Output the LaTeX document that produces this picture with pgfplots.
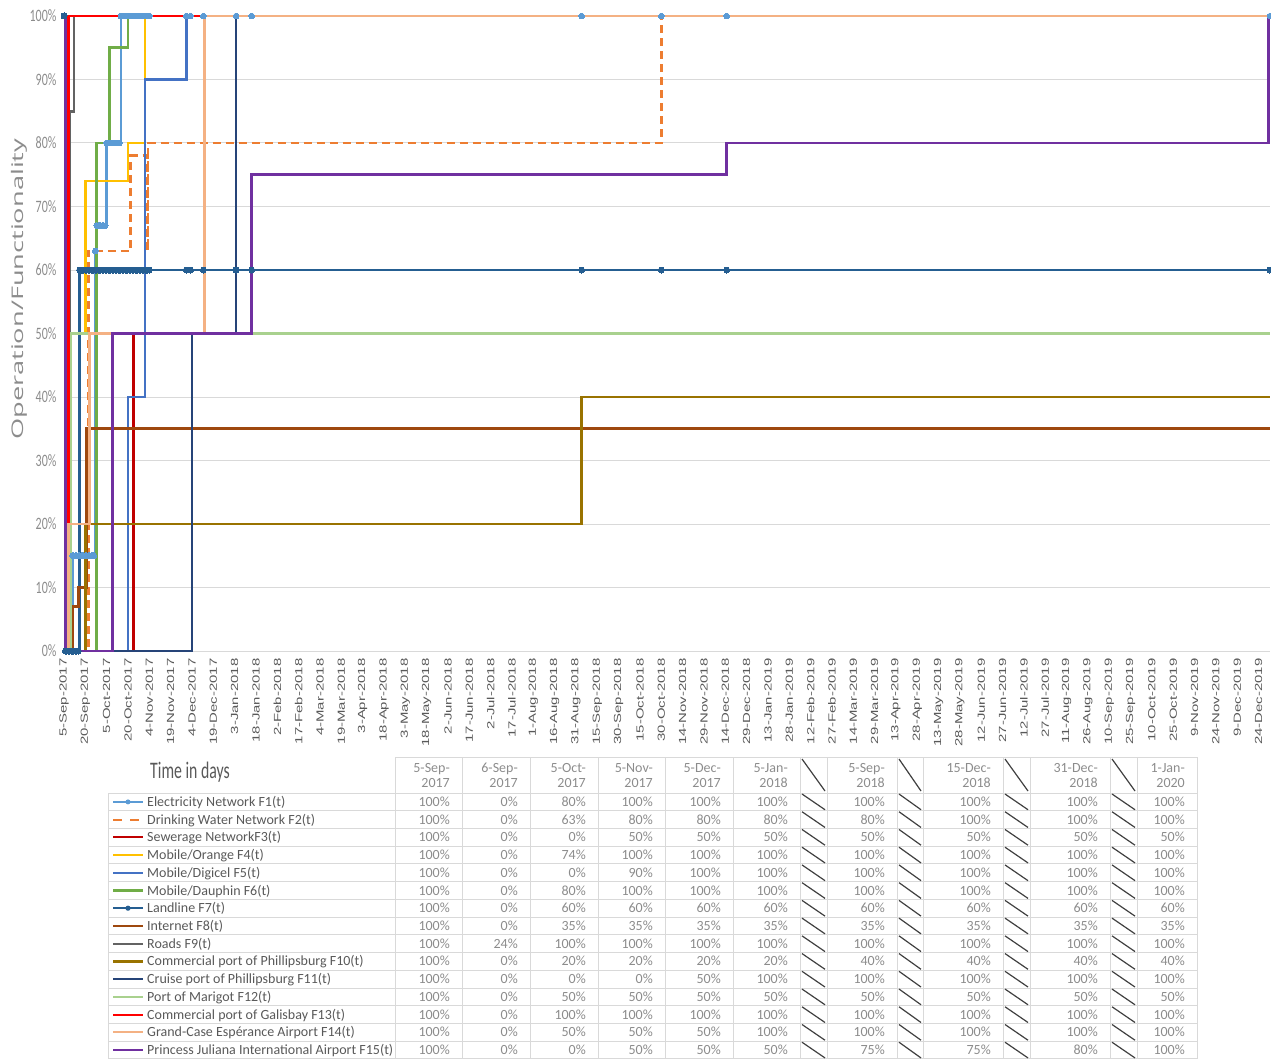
\documentclass[border=0pt]{standalone}
\usepackage{pgfplots}
\pgfplotsset{compat=1.18}
\usepackage{fontspec}
\setmainfont{Carlito}
\newfontfamily\arialf{Liberation Sans}
\newfontfamily\ylabfont{Open Sans}

\definecolor{f1}{HTML}{5B9BD5}
\definecolor{f2}{HTML}{ED7D31}
\definecolor{f3}{HTML}{C00000}
\definecolor{f4}{HTML}{FFC000}
\definecolor{f5}{HTML}{4472C4}
\definecolor{f6}{HTML}{70AD47}
\definecolor{f7}{HTML}{255E91}
\definecolor{f8}{HTML}{9E480E}
\definecolor{f9}{HTML}{636363}
\definecolor{f10}{HTML}{997300}
\definecolor{f11}{HTML}{264478}
\definecolor{f12}{HTML}{A9D18E}
\definecolor{f13}{HTML}{FF0000}
\definecolor{f14}{HTML}{F4B183}
\definecolor{f15}{HTML}{7030A0}
\definecolor{gridc}{HTML}{D9D9D9}
\definecolor{txt}{HTML}{595959}
\definecolor{val}{HTML}{8C8C8C}

% chart text is stretched along its length
\newcommand\xl[1]{\scalebox{1.45}[1]{#1}}

\begin{document}
\begin{tikzpicture}
\useasboundingbox (0,0) rectangle (1271pt,-1059pt);

\begin{axis}[
    at={(64pt,-651pt)}, anchor=south west,
    scale only axis, width=1206pt, height=635pt,
    xmin=0, xmax=848, ymin=0, ymax=100,
    clip=false,
    axis line style={draw=none},
    major tick length=0pt,
    ymajorgrids, grid style={draw=gridc, line width=1pt},
    ytick={0,10,...,100},
    /pgf/number format/assume math mode=true,
    yticklabel={\scalebox{1}[1.45]{\pgfmathprintnumber{\tick}\%}},
    yticklabel style={font=\fontsize{12}{14}\selectfont, text=val, xshift=-4pt},
    xtick={0,15,...,840},
    xticklabels={\xl{5-Sep-2017},\xl{20-Sep-2017},\xl{5-Oct-2017},\xl{20-Oct-2017},
      \xl{4-Nov-2017},\xl{19-Nov-2017},\xl{4-Dec-2017},\xl{19-Dec-2017},
      \xl{3-Jan-2018},\xl{18-Jan-2018},\xl{2-Feb-2018},\xl{17-Feb-2018},
      \xl{4-Mar-2018},\xl{19-Mar-2018},\xl{3-Apr-2018},\xl{18-Apr-2018},
      \xl{3-May-2018},\xl{18-May-2018},\xl{2-Jun-2018},\xl{17-Jun-2018},
      \xl{2-Jul-2018},\xl{17-Jul-2018},\xl{1-Aug-2018},\xl{16-Aug-2018},
      \xl{31-Aug-2018},\xl{15-Sep-2018},\xl{30-Sep-2018},\xl{15-Oct-2018},
      \xl{30-Oct-2018},\xl{14-Nov-2018},\xl{29-Nov-2018},\xl{14-Dec-2018},
      \xl{29-Dec-2018},\xl{13-Jan-2019},\xl{28-Jan-2019},\xl{12-Feb-2019},
      \xl{27-Feb-2019},\xl{14-Mar-2019},\xl{29-Mar-2019},\xl{13-Apr-2019},
      \xl{28-Apr-2019},\xl{13-May-2019},\xl{28-May-2019},\xl{12-Jun-2019},
      \xl{27-Jun-2019},\xl{12-Jul-2019},\xl{27-Jul-2019},\xl{11-Aug-2019},
      \xl{26-Aug-2019},\xl{10-Sep-2019},\xl{25-Sep-2019},\xl{10-Oct-2019},
      \xl{25-Oct-2019},\xl{9-Nov-2019},\xl{24-Nov-2019},\xl{9-Dec-2019},
      \xl{24-Dec-2019}},
    xticklabel style={rotate=90, anchor=east, font=\arialf\fontsize{10.3}{12}\selectfont, text=txt},
    xticklabel shift=4pt,
    ylabel={\scalebox{1.7}[1]{Operation/Functionality}},
    ylabel style={font=\ylabfont\fontsize{16}{18}\selectfont, text=val,
      at={(axis description cs:-0.0373,0.570)}, anchor=center},
    every axis plot/.append style={const plot, line width=2.7pt},
]

% F1 Electricity
\addplot[f1, mark=*, mark size=2.8pt, mark options={solid, fill=f1, draw=f1, line width=0pt}] coordinates {
 (0,100) (1,0) (2,0) (3,0) (4,0) (5,0)
 (6,15) (7,15) (8,15) (9,15) (10,15) (11,15) (12,15) (13,15) (14,15) (15,15)
 (16,15) (17,15) (18,15) (19,15) (20,15) (21,15)
 (22,63) (23,67) (24,67) (25,67) (26,67) (27,67) (28,67) (29,67)
 (30,80) (31,80) (32,80) (33,80) (34,80) (35,80) (36,80) (37,80) (38,80) (39,80)
 (40,100) (41,100) (42,100) (43,100) (44,100) (45,100) (46,100) (47,100) (48,100) (49,100)
 (50,100) (51,100) (52,100) (53,100) (54,100) (55,100) (56,100) (57,100) (58,100) (59,100)
 (60,100) (86,100) (89,100) (98,100) (121,100) (132,100) (364,100) (420,100) (466,100) (848,100)
};
% F2 Drinking water
\addplot[f2, dash pattern=on 8pt off 5pt] coordinates {
 (0,100) (1,0) (17,63) (47,78) (58.5,63) (59,80) (420,100) (848,100)
};
% F3 Sewerage
\addplot[f3] coordinates {(0,100) (1,0) (49,50) (848,50)};
% F4 Mobile/Orange
\addplot[f4] coordinates {(0,100) (1,0) (4,44) (5,50) (15,74) (45,80) (57,100) (848,100)};
% F5 Mobile/Digicel
\addplot[f5] coordinates {(0,100) (1,0) (45,40) (57,90) (86,100) (848,100)};
% F6 Mobile/Dauphin
\addplot[f6] coordinates {(0,100) (1,0) (23,80) (32,95) (45,100) (848,100)};
% F7 Landline
\addplot[f7, mark=*, mark size=3pt, mark options={solid, fill=f7, draw=f7, line width=0pt}] coordinates {
 (0,100) (1,0) (2,0) (3,0) (4,0) (5,0) (6,0) (7,0) (8,0) (9,0) (10,0)
 (11,60) (12,60) (13,60) (14,60) (15,60) (16,60) (17,60) (18,60) (19,60) (20,60)
 (21,60) (22,60) (23,60) (24,60) (25,60) (26,60) (27,60) (28,60) (29,60) (30,60)
 (31,60) (32,60) (33,60) (34,60) (35,60) (36,60) (37,60) (38,60) (39,60) (40,60)
 (41,60) (42,60) (43,60) (44,60) (45,60) (46,60) (47,60) (48,60) (49,60) (50,60)
 (51,60) (52,60) (53,60) (54,60) (55,60) (56,60) (57,60) (58,60) (59,60) (60,60)
 (86,60) (89,60) (98,60) (121,60) (132,60) (364,60) (420,60) (466,60) (848,60)
};
% F8 Internet
\addplot[f8] coordinates {(0,100) (1,0) (6,7) (10,10) (16,35) (848,35)};
% F9 Roads
\addplot[f9] coordinates {(0,100) (1,24) (4,85) (7,100) (848,100)};
% F10 Commercial port of Phillipsburg
\addplot[f10] coordinates {(0,100) (1,0) (15,20) (364,40) (848,40)};
% F11 Cruise port of Phillipsburg
\addplot[f11] coordinates {(0,100) (1,0) (90,50) (121,100) (848,100)};
% F12 Port of Marigot
\addplot[f12] coordinates {(0,100) (1,0) (5,50) (848,50)};
% F13 Commercial port of Galisbay
\addplot[f13] coordinates {(0,100) (1,0) (3,100) (848,100)};
% F14 Grand-Case airport
\addplot[f14] coordinates {(0,100) (1,0) (3,20) (18,50) (99,100) (848,100)};
% F15 Princess Juliana airport
\addplot[f15] coordinates {(0,100) (1,0) (34,50) (132,75) (466,80) (847,100) (848,100)};
\end{axis}

% ---- data table below the chart ----
\tikzset{tl/.style={draw=gridc, line width=1pt},
         dg/.style={draw=black!75, line width=1.2pt},
         tx/.style={inner sep=0pt, font=\fontsize{14}{16}\selectfont}}

\node[anchor=base west, inner sep=0pt, text=txt] at (150pt,-778pt)
  {\scalebox{1}[1.5]{\fontsize{15.8}{18}\selectfont Time in days}};

\draw[tl] (395pt,-757pt) -- (1197pt,-757pt);
\foreach \k in {0,...,15}{
  \pgfmathsetmacro\yy{-(793+\k*17.73)}
  \draw[tl] (108pt,\yy pt) -- (1197pt,\yy pt);
}
\foreach \xx in {395,462,530,598,665,733,800,827,897,923,1003,1030,1110,1137,1197}
  \draw[tl] (\xx pt,-757pt) -- (\xx pt,-1059pt);
\draw[tl] (108pt,-793pt) -- (108pt,-1059pt);

\foreach \a/\b in {800/827,897/923,1003/1030,1110/1137}{
  \draw[dg] (\a pt+2pt,-759pt) -- (\b pt-2pt,-791pt);
  \foreach \k in {0,...,14}{
    \pgfmathsetmacro\ya{-(793+\k*17.73)-1}
    \pgfmathsetmacro\yb{-(793+(\k+1)*17.73)+1}
    \draw[dg] (\a pt+2pt,\ya pt) -- (\b pt-2pt,\yb pt);
  }
}

% header
\foreach \xe/\la/\lb in {450/5-Sep-/2017,518/6-Sep-/2017,586/5-Oct-/2017,653/5-Nov-/2017,
    721/5-Dec-/2017,788/5-Jan-/2018,885/5-Sep-/2018,991/15-Dec-/2018,1098/31-Dec-/2018,1185/1-Jan-/2020}{
  \node[tx, anchor=base east, text=val] at (\xe pt,-772pt) {\la};
  \node[tx, anchor=base east, text=val] at (\xe pt,-787.5pt) {\lb};
}

% values
\foreach \vals [count=\r] in {
  {100,0,80,100,100,100,100,100,100,100},
  {100,0,63,80,80,80,80,100,100,100},
  {100,0,0,50,50,50,50,50,50,50},
  {100,0,74,100,100,100,100,100,100,100},
  {100,0,0,90,100,100,100,100,100,100},
  {100,0,80,100,100,100,100,100,100,100},
  {100,0,60,60,60,60,60,60,60,60},
  {100,0,35,35,35,35,35,35,35,35},
  {100,24,100,100,100,100,100,100,100,100},
  {100,0,20,20,20,20,40,40,40,40},
  {100,0,0,0,50,100,100,100,100,100},
  {100,0,50,50,50,50,50,50,50,50},
  {100,0,100,100,100,100,100,100,100,100},
  {100,0,50,50,50,100,100,100,100,100},
  {100,0,0,50,50,50,75,75,80,100}}{
  \pgfmathsetmacro\yb{-(793+(\r-0.5)*17.73+4.5)}
  \foreach \v [count=\c] in \vals {
    \pgfmathsetmacro\xe{{450,518,586,653,721,788,885,991,1098,1185}[\c-1]}
    \node[tx, anchor=base east, text=val] at (\xe pt,\yb pt) {\v\%};
  }
}

% legend keys
\foreach \cc/\lab [count=\r] in {f1/{Electricity Network F1(t)},
    f2/{Drinking Water Network F2(t)}, f3/{Sewerage NetworkF3(t)},
    f4/{Mobile/Orange F4(t)}, f5/{Mobile/Digicel F5(t)}, f6/{Mobile/Dauphin F6(t)},
    f7/{Landline F7(t)}, f8/{Internet F8(t)}, f9/{Roads F9(t)},
    f10/{Commercial port of Phillipsburg F10(t)}, f11/{Cruise port of Phillipsburg F11(t)},
    f12/{Port of Marigot F12(t)}, f13/{Commercial port of Galisbay F13(t)},
    f14/{Grand-Case Espérance Airport F14(t)},
    f15/{Princess Juliana International Airport F15(t)}}{
  \pgfmathsetmacro\yc{-(793+(\r-0.5)*17.73)}
  \pgfmathsetmacro\yb{\yc-4.5}
  \ifnum\r=2
    \draw[\cc, line width=2.2pt, dash pattern=on 9pt off 8pt] (113pt,\yc pt) -- (143pt,\yc pt);
  \else
    \draw[\cc, line width=2.2pt] (113pt,\yc pt) -- (143pt,\yc pt);
  \fi
  \node[tx, anchor=base west, text=txt] at (147pt,\yb pt) {\lab};
}
\fill[f1] (128pt,-801.9pt) circle (2.5pt);
\fill[f7] (128pt,-908.2pt) circle (2.6pt);

\end{tikzpicture}
\end{document}
